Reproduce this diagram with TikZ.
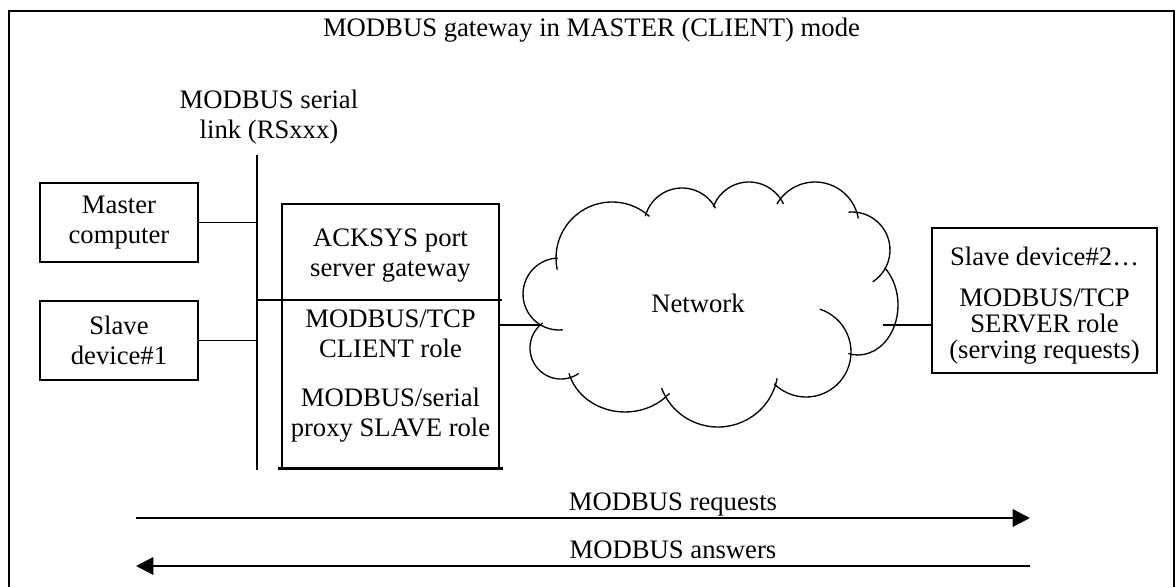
\documentclass[tikz,border=0pt]{standalone}
\usepackage{fontspec}
\setmainfont{Liberation Serif}
\usetikzlibrary{arrows.meta}

\begin{document}
\begin{tikzpicture}[x=0.75pt, y=-0.75pt,
        font=\fontsize{20pt}{22.5pt}\selectfont,
        box/.style = {draw, line width=1pt, inner sep=0pt, align=center},
        txt/.style = {align=center, anchor=base, inner sep=0pt},
        wire/.style = {line width=1pt},
        bold/.style = {line width=1.8pt},
        flow/.style = {line width=1.8pt,
        -{Triangle[length=13pt, width=13pt]}}]

        % Page and frame
        \path [use as bounding box, clip] (0,0) rectangle (1175,586);
        \draw [wire] (9,11) rectangle (1174,620);

        % Title
        \node [txt] (title) at (591.5,36) {MODBUS gateway in MASTER (CLIENT) mode};

        % Serial link
        \node [txt] (link) at (269,138) {MODBUS serial\\link (RSxxx)};
        \coordinate (busT) at (257,155);
        \coordinate (busB) at (257,470);
        \draw [wire] (busT) -- (busB);

        % Master computer
        \node [box, minimum width=118.5pt, minimum height=59.25pt]
            (master) at (119,222.5) {Master\\computer};

        % Slave device 1
        \node [box, minimum width=118.5pt, minimum height=59.25pt]
            (slave1) at (119,340.5) {Slave\\device\#1};

        \draw [wire] (master) -- (master -| busT);
        \draw [wire] (slave1) -- (slave1 -| busT);

        % Gateway
        \node [box, minimum width=162.75pt, minimum height=198pt]
            (gw) at (390.5,336) {};
        \node [txt] (gwname) at (390.5,276) {ACKSYS port\\server gateway};
        \node [txt] (gwtcp) at (390.5,357) {MODBUS/TCP\\CLIENT role};
        \node [txt] (gwser) at (390.5,436) {MODBUS/serial\\proxy SLAVE role};
        \coordinate (split) at (502,300);
        \draw [bold] (split -| busT) -- (split);
        \draw [bold] ([xshift=-2.25pt]gw.south west) -- ([xshift=2.25pt]gw.south east);

        % Network cloud
        \draw [wire] (612,258) ++(168:56) arc[start angle=168, end angle=312, radius=56];
        \draw [wire] (682,226) ++(-165:38) arc[start angle=-165, end angle=-28, radius=38];
        \draw [wire] (749,220) ++(-160:38) arc[start angle=-160, end angle=-25, radius=38];
        \draw [wire] (815,226) ++(-150:44) arc[start angle=-150, end angle=-10, radius=44];
        \draw [wire] (852,250) ++(-95:38) arc[start angle=-95, end angle=57, radius=38];
        \draw [wire] (858,305) ++(-48:40 and 50) arc[start angle=-48, end angle=104, x radius=40, y radius=50];
        \draw [wire] (806,352) ++(-72:45) arc[start angle=-72, end angle=135, radius=45];
        \draw [wire] (718,368) ++(10:60 and 59) arc[start angle=10, end angle=160, x radius=60, y radius=59];
        \draw [wire] (625,360) ++(40:58 and 52) arc[start angle=40, end angle=165, x radius=58, y radius=52];
        \draw [wire] (561,348) ++(55:31) arc[start angle=55, end angle=234, radius=31];
        \draw [wire] (559,294) ++(84:36) arc[start angle=84, end angle=268, radius=36];
        \node [txt] (net) at (698,312) {Network};

        % Slave device 2
        \node [box, minimum width=168.75pt, minimum height=108.75pt]
            (slave2) at (1044.5,300.5) {};
        \node [txt, font=\fontsize{20pt}{19.5pt}\selectfont] (slave2txt) at (1044.5,358)
            {Slave device\#2…\\[11.25pt]MODBUS/TCP\\SERVER role\\(serving requests)};

        \coordinate (netW) at (541,325);
        \coordinate (netE) at (883,325);
        \draw [wire] (gw.east |- netW) -- (netW);
        \draw [wire] (netE) -- (netE -| slave2.west);

        % Requests and answers
        \coordinate (reqA) at (136,518);
        \coordinate (reqB) at (1030,518);
        \coordinate (ansA) at (1030,566);
        \coordinate (ansB) at (136,566);
        \draw [flow] (reqA) -- (reqB);
        \draw [flow] (ansA) -- (ansB);
        \node [txt] (req) at (673,510) {MODBUS requests};
        \node [txt] (ans) at (673,558) {MODBUS answers};

\end{tikzpicture}
\end{document}
